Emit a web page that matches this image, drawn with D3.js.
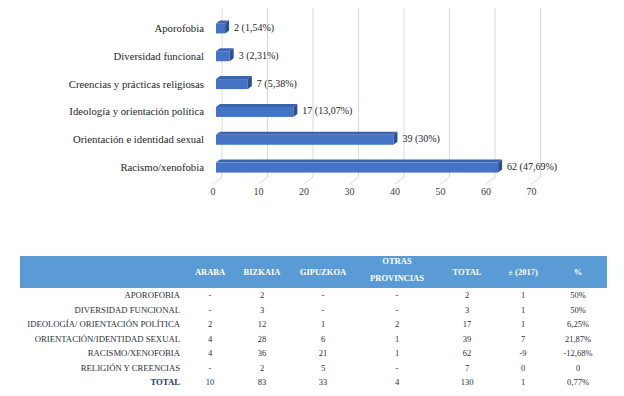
<!DOCTYPE html>
<html><head><meta charset="utf-8">
<script src="https://cdn.jsdelivr.net/npm/d3@7"></script>
<style>
html,body{margin:0;padding:0;background:#fff;}
svg{display:block;}
svg text{font-family:'Times New Roman','Liberation Serif',Tinos,'DejaVu Serif','Noto Serif',serif !important;}
</style></head>
<body>
<svg id="c" width="624" height="396"></svg>
<script>
// ---- chart data ----
const categories = ["Aporofobia","Diversidad funcional","Creencias y prácticas religiosas","Ideología y orientación política","Orientación e identidad sexual","Racismo/xenofobia"];
const values = [2,3,7,17,39,62];
const valueLabels = ["2 (1,54%)","3 (2,31%)","7 (5,38%)","17 (13,07%)","39 (30%)","62 (47,69%)"];
const xTicks = [0,10,20,30,40,50,60,70];

// ---- table data ----
const tableHeaders = ["ARABA","BIZKAIA","GIPUZKOA","OTRAS|PROVINCIAS","TOTAL","± (2017)","%"];
const rowLabels = ["APOROFOBIA","DIVERSIDAD FUNCIONAL","IDEOLOGÍA/ ORIENTACIÓN POLÍTICA","ORIENTACIÓN/IDENTIDAD SEXUAL","RACISMO/XENOFOBIA","RELIGIÓN Y CREENCIAS","TOTAL"];
const colAraba = ["-","-","2","4","4","-","10"];
const colBizkaia = ["2","3","12","28","36","2","83"];
const colGipuzkoa = ["-","-","1","6","21","5","33"];
const colOtras = ["-","-","2","1","1","-","4"];
const colTotal = ["2","3","17","39","62","7","130"];
const colDiff = ["1","1","1","7","-9","0","1"];
const colPct = ["50%","50%","6,25%","21,87%","-12,68%","0","0,77%"];

const svg = d3.select("#c");
const FONT = "'Times New Roman','Liberation Serif',serif";

// ---- bar chart ----
const x = d3.scaleLinear().domain([0,70]).range([216,534.5]);
const y = d3.scaleBand().domain(categories).range([13,180]);
const dx = 4, dy = 3;
const gridTop = 8, gridBottom = 177;

const grid = svg.append("g");
xTicks.forEach(t=>{
  const xb = x(t)+6;
  grid.append("path")
    .attr("d",`M${xb},${gridTop}L${xb},${gridBottom}L${xb-9},${gridBottom+7}`)
    .attr("fill","none").attr("stroke","#d9d9d9").attr("stroke-width",1);
});

const bars = svg.append("g").selectAll("g").data(categories).join("g");
bars.each(function(c,i){
  const g = d3.select(this);
  const cy = y(c)+y.bandwidth()/2;
  const x0 = x(0), x1 = x(values[i]);
  const top = cy-3.5, bot = cy+6.5;
  g.append("path").attr("d",`M${x0},${top}L${x0+dx},${top-dy}L${x1+dx},${top-dy}L${x1},${top}Z`)
    .attr("fill","#3a64b0");
  g.append("path").attr("d",`M${x1},${top}L${x1+dx},${top-dy}L${x1+dx},${bot-dy}L${x1},${bot}Z`)
    .attr("fill","#2c4f8f");
  g.append("rect").attr("x",x0).attr("y",top).attr("width",x1-x0).attr("height",bot-top)
    .attr("fill","#4472c4");
  g.append("text").attr("x",x1+dx+5).attr("y",cy+4)
    .attr("font-size",10).attr("fill","#262626").text(valueLabels[i]);
});

const catAxis = svg.append("g").attr("transform","translate(204,0)")
  .call(d3.axisLeft(y).tickSize(0).tickPadding(0));
catAxis.attr("font-family",FONT);
catAxis.select(".domain").remove();
catAxis.selectAll("text").attr("font-size",10.75).attr("fill","#262626")
  .attr("dy","0.65em").attr("y",-2);

const xAxis = svg.append("g").attr("transform","translate(-3.5,188)")
  .call(d3.axisBottom(x).tickValues(xTicks).tickSize(0).tickPadding(0));
xAxis.attr("font-family",FONT);
xAxis.select(".domain").remove();
xAxis.selectAll("text").attr("font-size",10).attr("fill","#404040");

// ---- table ----
const tbl = svg.append("g").attr("font-family",FONT);
tbl.append("rect").attr("x",20).attr("y",256).attr("width",587).attr("height",32).attr("fill","#5b9bd5");
const colX = [210,262,323,397,467,523,578];
tableHeaders.forEach((h,i)=>{
  const parts = h.split("|");
  const t = tbl.append("text").attr("x",colX[i]).attr("text-anchor","middle")
    .attr("font-size",8.5).attr("font-weight","bold").attr("fill","#fff");
  if(parts.length===1){
    t.attr("y",275).text(h);
  } else {
    t.append("tspan").attr("x",colX[i]).attr("y",263.5).text(parts[0]);
    t.append("tspan").attr("x",colX[i]).attr("y",281).text(parts[1]);
  }
});
const cols = [colAraba,colBizkaia,colGipuzkoa,colOtras,colTotal,colDiff,colPct];
const rowY = d3.scalePoint().domain(rowLabels).range([295,382]);
rowLabels.forEach((r,j)=>{
  const yy = rowY(r)+3;
  const isTot = r==="TOTAL";
  tbl.append("text").attr("x",180).attr("y",yy).attr("text-anchor","end")
    .attr("font-size",8.7).attr("fill",isTot?"#1f3864":"#2a2f3a")
    .attr("font-weight",isTot?"bold":"normal").text(r);
  cols.forEach((col,i)=>{
    tbl.append("text").attr("x",colX[i]).attr("y",yy).attr("text-anchor","middle")
      .attr("font-size",8.5).attr("fill","#2a2f3a").text(col[j]);
  });
});
</script>
</body></html>
